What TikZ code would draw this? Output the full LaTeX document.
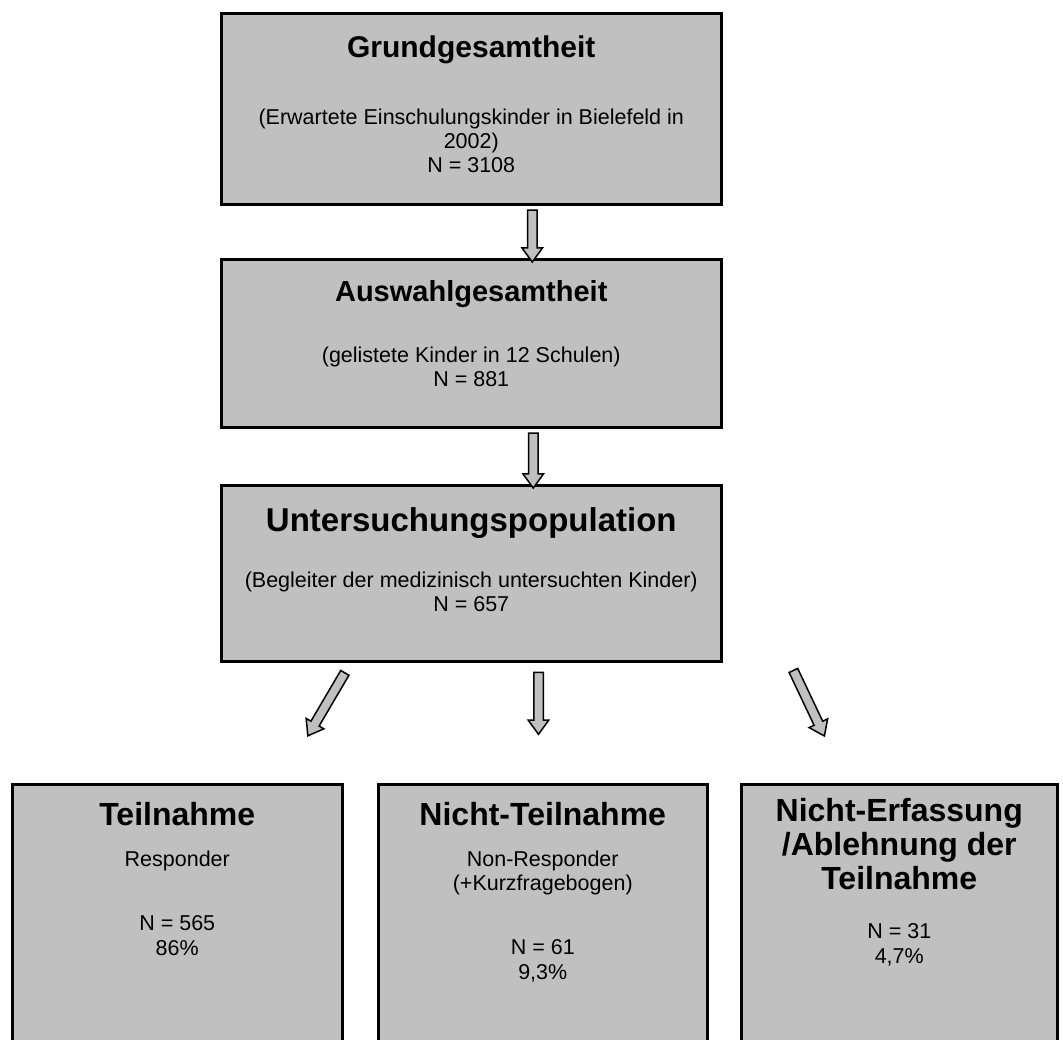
\documentclass[tikz,border=0pt]{standalone}
\usepackage{fontspec}
\setmainfont{Liberation Sans}
\usetikzlibrary{shapes.arrows}
\definecolor{boxgray}{HTML}{C0C0C0}
\tikzset{
  box/.style={draw=black, line width=2.5pt, fill=boxgray, anchor=north west, inner sep=0pt},
  ttl/.style={anchor=base, inner sep=0pt, font=\fontsize{#1}{#1}\selectfont\bfseries},
  txt/.style={anchor=base, inner sep=0pt, font=\fontsize{21.5pt}{24pt}\selectfont},
  blockarrow/.style={single arrow, draw=black, line width=1.5pt, fill=boxgray,
    inner xsep=0pt, inner ysep=4pt, single arrow head extend=5.5pt,
    single arrow tip angle=72, minimum height=#1, sloped, allow upside down},
}
\begin{document}
\begin{tikzpicture}[x=1pt,y=-1pt]
	\useasboundingbox (0,0) rectangle (1063,1039);

	% boxes
	\node[box, minimum width=500pt, minimum height=191pt] (grund) at (220,12) {};
	\node[box, minimum width=500pt, minimum height=168pt] (auswahl) at (220,258) {};
	\node[box, minimum width=500pt, minimum height=176pt] (unters) at (220,484) {};
	\node[box, minimum width=330pt, minimum height=300pt] (teil) at (11,783) {};
	\node[box, minimum width=329pt, minimum height=300pt] (nicht) at (377,783) {};
	\node[box, minimum width=316pt, minimum height=300pt] (erfass) at (740,783) {};

	% texts
	\node[ttl=30pt] (grundT) at ([yshift=-45pt]grund.north) {Grundgesamtheit};
	\node[txt] (grund1) at ([yshift=-112pt]grund.north) {(Erwartete Einschulungskinder in Bielefeld in};
	\node[txt] (grund2) at ([yshift=-136pt]grund.north) {2002)};
	\node[txt] (grund3) at ([yshift=-160pt]grund.north) {N = 3108};

	\node[ttl=29pt] (auswahlT) at ([yshift=-43pt]auswahl.north) {Auswahlgesamtheit};
	\node[txt] (auswahl1) at ([yshift=-104pt]auswahl.north) {(gelistete Kinder in 12 Schulen)};
	\node[txt] (auswahl2) at ([yshift=-128pt]auswahl.north) {N = 881};

	\node[ttl=33pt] (untersT) at ([yshift=-47pt]unters.north) {Untersuchungspopulation};
	\node[txt] (unters1) at ([yshift=-103pt]unters.north) {(Begleiter der medizinisch untersuchten Kinder)};
	\node[txt] (unters2) at ([yshift=-127pt]unters.north) {N = 657};

	\node[ttl=32pt] (teilT) at ([yshift=-42pt]teil.north) {Teilnahme};
	\node[txt] (teil1) at ([yshift=-83pt]teil.north) {Responder};
	\node[txt] (teil2) at ([yshift=-147pt]teil.north) {N = 565};
	\node[txt] (teil3) at ([yshift=-172pt]teil.north) {86\%};

	\node[ttl=32pt] (nichtT) at ([yshift=-42pt]nicht.north) {Nicht-Teilnahme};
	\node[txt] (nicht1) at ([yshift=-83pt]nicht.north) {Non-Responder};
	\node[txt] (nicht2) at ([yshift=-107pt]nicht.north) {(+Kurzfragebogen)};
	\node[txt] (nicht3) at ([yshift=-171pt]nicht.north) {N = 61};
	\node[txt] (nicht4) at ([yshift=-196pt]nicht.north) {9,3\%};

	\node[ttl=32pt] (erfassT) at ([yshift=-38pt]erfass.north) {Nicht-Erfassung};
	\node[ttl=32pt] (erfassT2) at ([yshift=-72pt]erfass.north) {/Ablehnung der};
	\node[ttl=32pt] (erfassT3) at ([yshift=-106pt]erfass.north) {Teilnahme};
	\node[txt] (erfass1) at ([yshift=-155pt]erfass.north) {N = 31};
	\node[txt] (erfass2) at ([yshift=-180pt]erfass.north) {4,7\%};

	% arrows
	\coordinate (a1s) at ([xshift=61pt,yshift=-2pt]grund.south);
	\coordinate (a1e) at (a1s |- auswahl.north);
	\coordinate (a2s) at ([xshift=62pt,yshift=-2pt]auswahl.south);
	\coordinate (a2e) at (a2s |- unters.north);
	\coordinate (a3s) at (538.5,669);
	\coordinate (a3e) at (538.5,731);
	\coordinate (a4s) at (346.5,670);
	\coordinate (a4e) at (309.5,733);
	\coordinate (a5s) at (792,667.5);
	\coordinate (a5e) at (823,733);

	\path (a1s) -- node[blockarrow=52pt] (arr1) {} (a1e);
	\path (a2s) -- node[blockarrow=55pt] (arr2) {} (a2e);
	\path (a3s) -- node[blockarrow=62pt] (arr3) {} (a3e);
	\path (a4s) -- node[blockarrow=73pt] (arr4) {} (a4e);
	\path (a5s) -- node[blockarrow=72.5pt] (arr5) {} (a5e);
\end{tikzpicture}
\end{document}
